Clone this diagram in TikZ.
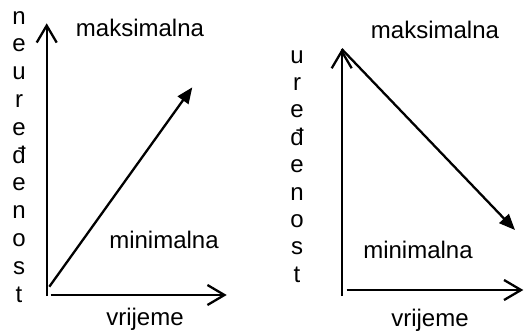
\documentclass[tikz,border=0pt]{standalone}
\usepackage{fontspec}
\setmainfont{Liberation Sans}
\usetikzlibrary{arrows.meta}
\begin{document}
\begin{tikzpicture}[x=1bp,y=-1bp,
  axis/.style={line width=2.3bp, -{Straight Barb[length=17bp,width=20bp]}},
  trend/.style={line width=2.3bp, -{Triangle[length=16bp,width=13bp]}},
  lbl/.style={font=\fontsize{24bp}{28bp}\selectfont, inner sep=0pt, anchor=base},
]
\useasboundingbox (0,0) rectangle (524,332);

% left graph: disorder grows with time
\coordinate (lvb) at (46.7,296);
\coordinate (lvt) at (46.7,23.3);
\coordinate (lhb) at (50.7,295);
\coordinate (lhe) at (226.7,295);
\coordinate (lds) at (49.3,286.7);
\coordinate (lde) at (192.3,87.3);
\draw[axis] (lvb) -- (lvt);
\draw[axis] (lhb) -- (lhe);
\draw[trend] (lds) -- (lde);
\node[lbl] (lmax) at (140,36.7) {maksimalna};
\node[lbl] (lmin) at (164,248) {minimalna};
\node[lbl] (ltime) at (145,325) {vrijeme};
\foreach \ch [count=\i] in {n,e,u,r,e,đ,e,n,o,s,t}
  \node[lbl] (la\i) at (19,{24+27.8*(\i-1)}) {\ch};

% right graph: order falls with time
\coordinate (rvb) at (341.7,296);
\coordinate (rvt) at (341.7,49);
\coordinate (rhb) at (346.7,290);
\coordinate (rhe) at (523.3,290);
\coordinate (rds) at (341.7,49);
\coordinate (rde) at (515,230);
\draw[axis] (rvb) -- (rvt);
\draw[axis] (rhb) -- (rhe);
\draw[trend] (rds) -- (rde);
\node[lbl] (rmax) at (435,38.5) {maksimalna};
\node[lbl] (rmin) at (418,258) {minimalna};
\node[lbl] (rtime) at (430,326) {vrijeme};
\foreach \ch [count=\i] in {u,r,e,đ,e,n,o,s,t}
  \node[lbl] (ra\i) at (297,{63+27.4*(\i-1)}) {\ch};
\end{tikzpicture}
\end{document}
